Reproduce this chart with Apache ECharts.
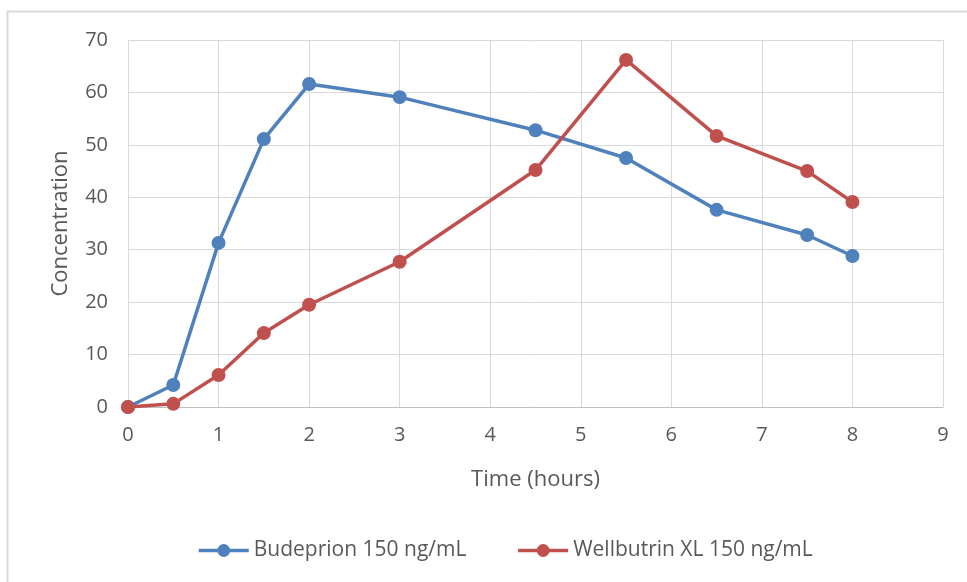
<!DOCTYPE html>
<html><head><meta charset="utf-8">
<script src="https://cdn.jsdelivr.net/npm/echarts@6/dist/echarts.min.js"></script>
<style>html,body{margin:0;padding:0;background:#fff}#c{width:967px;height:582px}</style>
</head><body><div id="c"></div>
<script>
const times = [0, 0.5, 1, 1.5, 2, 3, 4.5, 5.5, 6.5, 7.5, 8];
const budeprion = [0, 4.2, 31.3, 51.1, 61.6, 59.1, 52.8, 47.5, 37.6, 32.8, 28.8];
const wellbutrin = [0, 0.6, 6.1, 14.1, 19.5, 27.7, 45.2, 66.2, 51.7, 45.0, 39.1];
const seriesNames = ['Budeprion 150 ng/mL', 'Wellbutrin XL 150 ng/mL'];
const xTitle = 'Time (hours)';
const yTitle = 'Concentration';

const pairs = arr => times.map((t, i) => [t, arr[i]]);
const font = '"Open Sans", "Noto Sans", sans-serif';
const chart = echarts.init(document.getElementById('c'));
chart.setOption({
  animation: false,
  color: ['#4f81bd', '#c0504d'],
  graphic: [{type: 'rect', shape: {x: 7.5, y: 11.5, width: 970, height: 580}, style: {fill: 'none', stroke: '#d9d9d9', lineWidth: 2}, silent: true}],
  grid: {left: 128, right: 24, top: 40, bottom: 175},
  legend: {
    top: 535, left: 192, itemWidth: 50, itemHeight: 16, itemGap: 50,
    lineStyle: {width: 3.5},
    textStyle: {color: '#595959', fontSize: 21, fontFamily: font},
    data: seriesNames
  },
  xAxis: {
    type: 'value', min: 0, max: 9, interval: 1,
    name: xTitle, nameLocation: 'middle', nameGap: 62,
    nameTextStyle: {color: '#595959', fontSize: 22, fontFamily: font},
    axisLine: {lineStyle: {color: '#bfbfbf'}},
    axisTick: {show: false},
    axisLabel: {color: '#595959', fontSize: 20, fontFamily: font, margin: 18},
    splitLine: {show: true, lineStyle: {color: '#d9d9d9'}}
  },
  yAxis: {
    type: 'value', min: 0, max: 70, interval: 10,
    name: yTitle, nameLocation: 'middle', nameGap: 56,
    nameTextStyle: {color: '#595959', fontSize: 22, fontFamily: font},
    axisLine: {show: false},
    axisTick: {show: false},
    axisLabel: {color: '#595959', fontSize: 20, fontFamily: font, margin: 20},
    splitLine: {show: true, lineStyle: {color: '#d9d9d9'}}
  },
  series: [
    {name: seriesNames[0], type: 'line', data: pairs(budeprion), symbol: 'circle', symbolSize: 14, lineStyle: {width: 3.5}},
    {name: seriesNames[1], type: 'line', data: pairs(wellbutrin), symbol: 'circle', symbolSize: 14, lineStyle: {width: 3.5}}
  ]
});
</script></body></html>
